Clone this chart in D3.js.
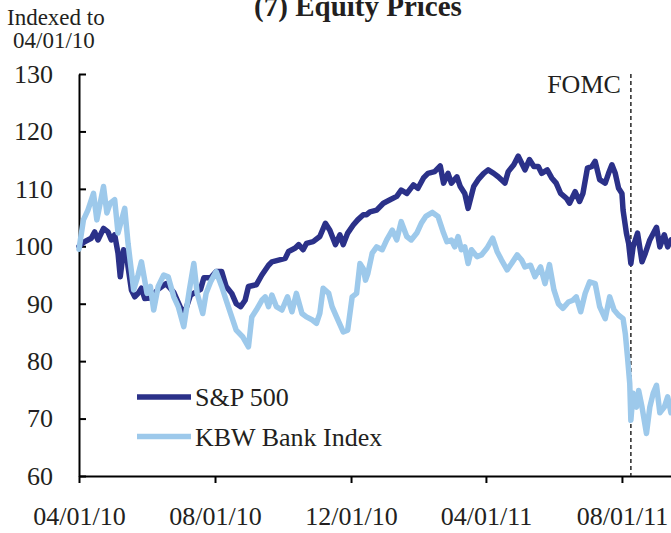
<!DOCTYPE html>
<html>
<head>
<meta charset="utf-8">
<script src="https://cdnjs.cloudflare.com/ajax/libs/d3/7.8.5/d3.min.js"></script>
<style>
  body { margin: 0; background: #fff; }
  svg { display: block; font-family: "Liberation Serif", "Times New Roman", serif; }
</style>
</head>
<body>
<svg id="chart" width="671" height="533"></svg>
<script>
/*** DATA ***/
var spDates = ["2010-04-01","2010-04-06","2010-04-12","2010-04-15","2010-04-18","2010-04-23","2010-04-27","2010-04-30",
  "2010-05-03","2010-05-06","2010-05-08","2010-05-11","2010-05-14","2010-05-15","2010-05-18","2010-05-21","2010-05-24",
  "2010-05-27","2010-05-30","2010-06-04","2010-06-11","2010-06-18","2010-06-25","2010-07-04","2010-07-10","2010-07-19",
  "2010-07-22","2010-07-28","2010-08-02","2010-08-07","2010-08-11","2010-08-16","2010-08-20","2010-08-24","2010-08-28",
  "2010-08-31","2010-09-07","2010-09-12","2010-09-18","2010-09-21","2010-09-27","2010-10-03","2010-10-06","2010-10-12",
  "2010-10-15","2010-10-19","2010-10-22","2010-10-28","2010-11-03","2010-11-08","2010-11-12","2010-11-17","2010-11-21",
  "2010-11-24","2010-11-28","2010-12-03","2010-12-07","2010-12-12","2010-12-15","2010-12-18","2010-12-24","2010-12-30",
  "2011-01-05","2011-01-11","2011-01-15","2011-01-20","2011-01-26","2011-01-30","2011-02-04","2011-02-08","2011-02-14",
  "2011-02-19","2011-02-22","2011-02-26","2011-03-01","2011-03-06","2011-03-09","2011-03-13","2011-03-16","2011-03-21",
  "2011-03-25","2011-03-30","2011-04-03","2011-04-08","2011-04-12","2011-04-18","2011-04-21","2011-04-26","2011-04-30",
  "2011-05-03","2011-05-06","2011-05-10","2011-05-14","2011-05-18","2011-05-21","2011-05-26","2011-05-30","2011-06-03",
  "2011-06-07","2011-06-12","2011-06-15","2011-06-20","2011-06-24","2011-06-27","2011-07-01","2011-07-05","2011-07-08",
  "2011-07-12","2011-07-17","2011-07-20","2011-07-23","2011-07-26","2011-07-29","2011-08-01","2011-08-02","2011-08-05",
  "2011-08-07","2011-08-09","2011-08-11","2011-08-15","2011-08-19","2011-08-22","2011-08-26","2011-09-01","2011-09-04",
  "2011-09-08","2011-09-11","2011-09-14"];
var spValues = [100,100.8,101.4,102.5,101.1,103.1,102.5,101.1,
  102,98.8,94.7,99.4,98.2,96.4,92.4,91.2,91.8,
  92.7,90.9,91.0,92.5,93.5,92.0,88.0,91.5,92.5,
  94.5,94.5,95.6,95.6,93.0,91.8,90.0,89.5,90.6,
  93.0,93.3,95.0,96.7,97.3,97.6,97.9,99.1,99.7,
  100.3,99.4,100.5,100.8,101.7,104.0,102.8,100.3,102.0,
  100.3,102.3,103.7,104.6,105.5,105.5,106.0,106.3,107.5,
  108.1,108.7,109.8,109.2,110.7,110.1,111.9,112.7,113.0,
  114.0,111.0,112.7,111.0,112.1,110.4,109.2,106.6,110.4,
  111.6,112.7,113.3,112.7,112.1,111.0,113.0,114.2,115.7,
  114.5,113.3,115.1,113.9,113.9,112.7,113.3,111.9,111.0,
  109.2,108.4,107.5,109.5,107.8,109.2,113.6,113.9,114.8,
  111.6,111.0,112.7,114.2,112.7,110.1,109.2,106.3,102.3,
  100.5,97.0,99.9,102.3,97.3,98.8,101.1,103.3,99.9,
  102.0,99.9,101.1];

var kbwDates = ["2010-04-01","2010-04-05","2010-04-09","2010-04-14","2010-04-17","2010-04-23","2010-04-26","2010-04-29",
  "2010-05-03","2010-05-06","2010-05-12","2010-05-15","2010-05-20","2010-05-24","2010-05-27","2010-06-01","2010-06-04",
  "2010-06-07","2010-06-11","2010-06-16","2010-06-20","2010-06-25","2010-06-29","2010-07-04","2010-07-09","2010-07-13",
  "2010-07-16","2010-07-21","2010-07-24","2010-07-28","2010-08-02","2010-08-07","2010-08-11","2010-08-16","2010-08-20",
  "2010-08-26","2010-08-31","2010-09-03","2010-09-07","2010-09-12","2010-09-15","2010-09-18","2010-09-21","2010-09-25",
  "2010-09-30","2010-10-05","2010-10-09","2010-10-13","2010-10-18","2010-10-22","2010-10-27","2010-10-31","2010-11-03",
  "2010-11-06","2010-11-11","2010-11-14","2010-11-18","2010-11-24","2010-11-28","2010-12-02","2010-12-06","2010-12-09",
  "2010-12-12","2010-12-14","2010-12-16","2010-12-20","2010-12-24","2010-12-29","2011-01-02","2011-01-07","2011-01-11",
  "2011-01-15","2011-01-20","2011-01-24","2011-01-29","2011-02-02","2011-02-06","2011-02-12","2011-02-17","2011-02-22",
  "2011-02-25","2011-03-01","2011-03-04","2011-03-07","2011-03-10","2011-03-13","2011-03-16","2011-03-19","2011-03-24",
  "2011-03-28","2011-04-02","2011-04-07","2011-04-11","2011-04-15","2011-04-20","2011-04-24","2011-04-29","2011-05-03",
  "2011-05-06","2011-05-11","2011-05-15","2011-05-20","2011-05-24","2011-05-28","2011-06-01","2011-06-05","2011-06-09",
  "2011-06-14","2011-06-18","2011-06-21","2011-06-25","2011-06-29","2011-07-03","2011-07-08","2011-07-12","2011-07-17",
  "2011-07-21","2011-07-25","2011-07-29","2011-08-02","2011-08-04","2011-08-06","2011-08-08","2011-08-09","2011-08-11",
  "2011-08-14","2011-08-16","2011-08-19","2011-08-23","2011-08-26","2011-08-29","2011-09-01","2011-09-04","2011-09-08",
  "2011-09-11","2011-09-14"];
var kbwValues = [99.5,104.6,106.3,109.2,104.6,110.4,105.8,107.5,
  108.1,102.3,106.6,100.5,92.4,95.0,97.3,91.8,93.0,
  88.9,93.0,95.0,94.7,91.2,89.5,86.0,92.4,97.0,
  91.8,88.3,91.8,93.8,95.6,93.0,90.6,87.7,85.4,
  84.2,82.5,87.7,88.9,90.6,91.2,89.5,91.5,89.5,
  88.9,91.2,88.6,91.8,88.3,87.7,87.2,86.6,88.3,
  92.7,91.8,89.5,87.7,85.1,85.4,91.2,91.8,97.0,
  96.1,94.1,95.2,98.8,99.9,99.4,101.1,102.8,101.1,
  104.3,101.7,101.1,102.3,104.0,105.2,105.9,105.2,102.3,
  100.8,101.1,99.9,101.7,99.4,99.9,97.0,99.4,98.2,
  98.5,99.7,101.4,99.1,97.6,95.9,97.0,98.5,97.6,
  96.4,96.7,94.7,96.4,93.5,96.8,92.4,90.0,89.2,
  90.3,90.6,91.2,88.6,91.8,93.8,93.5,89.5,87.4,
  91.2,88.9,88.0,87.4,84.8,80.7,76.1,69.7,74.4,
  72.0,74.9,72.0,67.4,72.0,74.4,75.8,71.0,72.0,
  73.8,71.0];

var seriesNames = ["S&P 500", "KBW Bank Index"];
var seriesColors = ["#2b3189", "#9dc9eb"];
var xTicks = ["2010-04-01", "2010-08-01", "2010-12-01", "2011-04-01", "2011-08-01"];
var yTicks = [60, 70, 80, 90, 100, 110, 120, 130];
var fomcDate = "2011-08-09";

/*** CHART ***/
var parse = d3.timeParse("%Y-%m-%d");
var svg = d3.select("#chart");
var ink = "#231f20";

var x = d3.scaleTime()
  .domain([parse("2010-04-01"), parse("2011-09-14")])
  .range([79, 671]);
var y = d3.scaleLinear()
  .domain([60, 130])
  .range([476, 74]);

var spData = spDates.map((d, i) => ({date: parse(d), value: spValues[i]}));
var kbwData = kbwDates.map((d, i) => ({date: parse(d), value: kbwValues[i]}));

// title and unit label
svg.append("text")
  .attr("x", 358).attr("y", 16)
  .attr("text-anchor", "middle")
  .attr("font-size", "29px").attr("font-weight", "bold")
  .attr("fill", ink)
  .text("(7) Equity Prices");
svg.append("text")
  .attr("x", 7).attr("y", 25)
  .attr("font-size", "23px").attr("fill", ink)
  .text("Indexed to");
svg.append("text")
  .attr("x", 13).attr("y", 48)
  .attr("font-size", "23px").attr("fill", ink)
  .text("04/01/10");

// axes
var xAxis = svg.append("g")
  .attr("transform", "translate(0," + y(60) + ")")
  .call(d3.axisBottom(x)
    .tickValues(xTicks.map(parse))
    .tickFormat(d3.timeFormat("%m/%d/%y"))
    .tickSizeInner(7).tickSizeOuter(0).tickPadding(24));
var yAxis = svg.append("g")
  .attr("transform", "translate(" + x(parse("2010-04-01")) + ",0)")
  .call(d3.axisLeft(y)
    .tickValues(yTicks)
    .tickSizeInner(-7).tickSizeOuter(0).tickPadding(26));

[xAxis, yAxis].forEach(a => {
  a.selectAll("path, line").attr("stroke", "#000").attr("stroke-width", 2);
  a.selectAll("text").attr("font-family", "Liberation Serif, Times New Roman, serif")
    .attr("font-size", "26px").attr("fill", ink);
});

// FOMC marker
var fx = x(parse(fomcDate));
svg.append("line")
  .attr("x1", fx).attr("x2", fx)
  .attr("y1", y(130)).attr("y2", y(60))
  .attr("stroke", "#333").attr("stroke-width", 1.6)
  .attr("stroke-dasharray", "4,3");
svg.append("text")
  .attr("x", fx - 10).attr("y", 93)
  .attr("text-anchor", "end")
  .attr("font-size", "26px").attr("fill", ink)
  .text("FOMC");

// series lines, bank index drawn on top
var line = d3.line()
  .x(d => x(d.date))
  .y(d => y(d.value));

[spData, kbwData].forEach((data, i) => {
  svg.append("path")
    .datum(data)
    .attr("fill", "none")
    .attr("stroke", seriesColors[i])
    .attr("stroke-width", 5.5)
    .attr("stroke-linejoin", "round")
    .attr("stroke-linecap", "round")
    .attr("d", line);
});

// legend
var legend = svg.append("g").selectAll("g").data(seriesNames).enter()
  .append("g").attr("transform", (d, i) => "translate(137," + (397 + i * 39.5) + ")");
legend.append("line")
  .attr("x1", 0).attr("x2", 54)
  .attr("stroke", (d, i) => seriesColors[i])
  .attr("stroke-width", 5.5);
legend.append("text")
  .attr("x", 58).attr("y", 9)
  .attr("font-size", "26px").attr("fill", ink)
  .text(d => d);
</script>
</body>
</html>
